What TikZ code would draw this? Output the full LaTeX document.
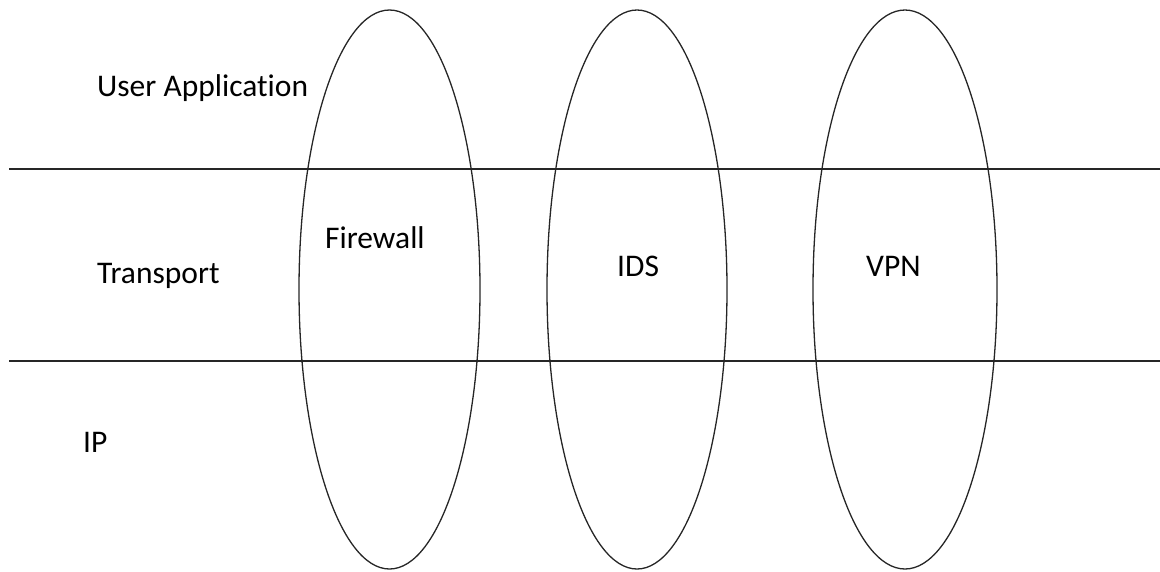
\documentclass[tikz,border=0pt]{standalone}
\usepackage{fontspec}
\setmainfont{Carlito}[Ligatures={NoCommon}]
\begin{document}
\begin{tikzpicture}[x=1pt,y=-1pt,
  layerline/.style={line width=1.3pt, draw=black!85},
  oval/.style={line width=1.3pt, draw=black!85},
  lbl/.style={inner sep=0pt, anchor=base west, font=\fontsize{31.5}{36}\selectfont}]
\useasboundingbox (0,0) rectangle (1160,571);
% layer separators
\coordinate (l1a) at (9,169);
\coordinate (l1b) at (1160,169);
\coordinate (l2a) at (9,361);
\coordinate (l2b) at (1160,361);
\draw[layerline] (l1a) -- (l1b);
\draw[layerline] (l2a) -- (l2b);
% ellipses
\draw[oval] (389.5,289.5) ellipse [x radius=90.5pt, y radius=279.5pt];
\draw[oval] (637,289.5) ellipse [x radius=90pt, y radius=279.5pt];
\draw[oval] (905,289.5) ellipse [x radius=92pt, y radius=279.5pt];
% labels
\node[lbl] (ua) at (97,96) {User Application};
\node[lbl] (tr) at (97,283) {Transport};
\node[lbl] (ip) at (83,452) {IP};
\node[lbl] (fw) at (325,248) {Firewall};
\node[lbl] (ids) at (617,276) {IDS};
\node[lbl] (vpn) at (866,276) {VPN};
\end{tikzpicture}
\end{document}
